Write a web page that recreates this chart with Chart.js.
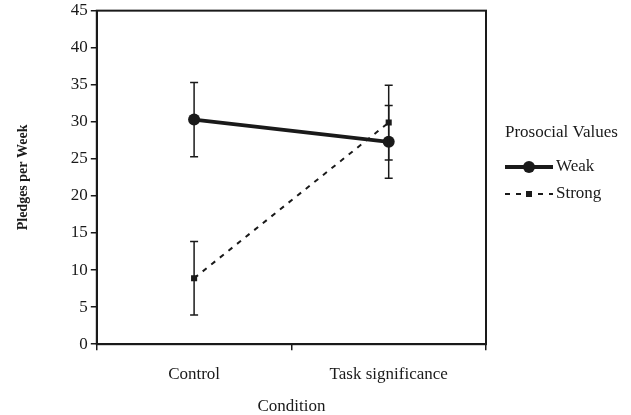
<!DOCTYPE html>
<html>
<head>
<meta charset="utf-8">
<script src="https://cdn.jsdelivr.net/npm/chart.js@4.4.0/dist/chart.umd.min.js"></script>
<style>
  html, body { margin: 0; padding: 0; background: #fff; }
  #wrap { width: 631px; height: 415px; position: relative; }
</style>
</head>
<body>
<div id="wrap"><canvas id="grafico"></canvas></div>
<script>
// dados
const conditions = ['Control', 'Task significance'];
const weakMean = [30.3, 27.3];
const weakErr = [5.0, 4.9];
const strongMean = [8.9, 29.9];
const strongErr = [4.95, 5.05];
const yTicks = [0, 5, 10, 15, 20, 25, 30, 35, 40, 45];

const ink = '#1a1a1a';
const fonte = '"Liberation Serif", "Times New Roman", serif';

// barras de erro + moldura
const errorBars = {
    id: 'errorBars',
    afterDatasetsDraw(chart) {
        const { ctx, scales: { x, y }, chartArea } = chart;
        ctx.save();
        ctx.strokeStyle = ink;
        ctx.lineWidth = 1.5;
        chart.data.datasets.forEach(ds => {
            ds.data.forEach((v, i) => {
                const px = x.getPixelForValue(i);
                const top = y.getPixelForValue(v + ds.err[i]);
                const bot = y.getPixelForValue(v - ds.err[i]);
                ctx.beginPath();
                ctx.moveTo(px, top); ctx.lineTo(px, bot);
                ctx.moveTo(px - 4, top); ctx.lineTo(px + 4, top);
                ctx.moveTo(px - 4, bot); ctx.lineTo(px + 4, bot);
                ctx.stroke();
            });
        });
        // moldura
        ctx.lineWidth = 2;
        ctx.strokeRect(chartArea.left, chartArea.top, chartArea.right - chartArea.left, chartArea.bottom - chartArea.top);
        ctx.restore();
    }
};

// legenda desenhada à mão (linha + marcador)
const legendaLinha = {
    id: 'legendaLinha',
    afterDraw(chart) {
        const { ctx, chartArea } = chart;
        const x0 = chartArea.right + 19;
        ctx.save();
        ctx.fillStyle = ink;
        ctx.font = '17px ' + fonte;
        ctx.textBaseline = 'middle';
        ctx.fillText('Prosocial Values', chartArea.right + 19, 133);
        const rows = [167, 194];
        chart.data.datasets.forEach((ds, i) => {
            const yy = rows[i];
            ctx.strokeStyle = ds.borderColor;
            ctx.lineWidth = ds.borderWidth;
            ctx.setLineDash(ds.borderDash || []);
            ctx.beginPath();
            ctx.moveTo(x0, yy); ctx.lineTo(x0 + 48, yy);
            ctx.stroke();
            ctx.setLineDash([]);
            ctx.fillStyle = ink;
            if (ds.pointStyle === 'circle') {
                ctx.beginPath(); ctx.arc(x0 + 24, yy, ds.pointRadius, 0, Math.PI * 2); ctx.fill();
            } else {
                ctx.fillRect(x0 + 21, yy - 3, 6, 6);
            }
            ctx.fillText(ds.label, x0 + 51, yy);
        });
        ctx.restore();
    }
};

new Chart(document.getElementById('grafico'), {
    type: 'line',
    data: {
        labels: conditions,
        datasets: [
            {
                label: 'Weak', data: weakMean, err: weakErr,
                borderColor: ink, backgroundColor: ink, borderWidth: 3.8,
                pointStyle: 'circle', pointRadius: 6, pointBackgroundColor: ink, pointBorderWidth: 0,
                tension: 0
            },
            {
                label: 'Strong', data: strongMean, err: strongErr,
                borderColor: ink, backgroundColor: ink, borderWidth: 2, borderDash: [5, 6],
                pointStyle: 'rect', pointRadius: 4.3, pointBackgroundColor: ink, pointBorderWidth: 0,
                tension: 0
            }
        ]
    },
    options: {
        responsive: true,
        maintainAspectRatio: false,
        animation: false,
        layout: { padding: { left: 11, right: 145, top: 10, bottom: -2 } },
        plugins: { legend: { display: false }, tooltip: { enabled: false } },
        scales: {
            x: {
                offset: true,
                grid: { display: true, drawOnChartArea: false, offset: true, tickLength: 6, color: ink, lineWidth: 1.5 },
                border: { display: true, color: ink, width: 2 },
                ticks: { color: ink, font: { family: fonte, size: 17 }, padding: 14 },
                title: { display: true, text: 'Condition', color: ink, font: { family: fonte, size: 17 }, padding: { top: -2, bottom: 0 } }
            },
            y: {
                min: 0, max: 45,
                afterBuildTicks: axis => { axis.ticks = yTicks.map(v => ({ value: v })); },
                grid: { display: true, drawOnChartArea: false, tickLength: 6, color: ink, lineWidth: 1.5 },
                border: { display: true, color: ink, width: 2 },
                ticks: { color: ink, font: { family: fonte, size: 17, lineHeight: 0.9 }, padding: 3 },
                title: { display: true, text: 'Pledges per Week', color: ink, font: { family: fonte, size: 14, weight: 'bold' }, padding: { bottom: 36 } }
            }
        }
    },
    plugins: [errorBars, legendaLinha]
});
</script>
</body>
</html>
